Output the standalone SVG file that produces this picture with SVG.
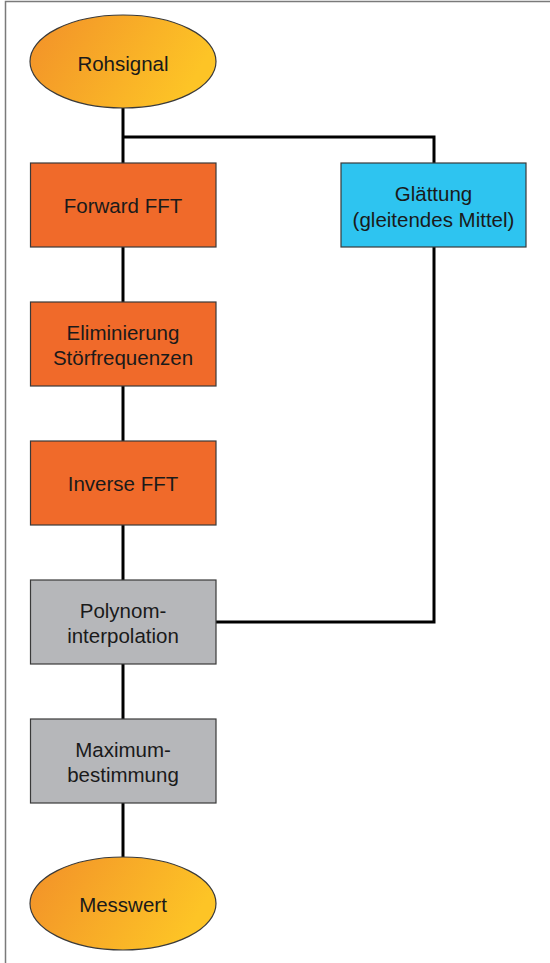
<svg xmlns="http://www.w3.org/2000/svg" width="550" height="963" viewBox="0 0 550 963">
<defs>
<linearGradient id="og" x1="0" y1="0" x2="1" y2="0.3">
<stop offset="0" stop-color="#F29029"/>
<stop offset="1" stop-color="#FDC426"/>
</linearGradient>
<style>
.t{font-family:"Liberation Sans",Arial,sans-serif;font-size:20.5px;fill:#1a1a1a;text-anchor:middle}
.o{fill:#F06A2A;stroke:#3a3a3a;stroke-width:1.2}
.g{fill:#B6B7BA;stroke:#3a3a3a;stroke-width:1.2}
.c{fill:#2EC4F0;stroke:#3a3a3a;stroke-width:1.2}
.e{fill:url(#og);stroke:#3a3a3a;stroke-width:1.2}
.l{fill:none;stroke:#000;stroke-width:3}
</style>
</defs>
<rect width="550" height="963" fill="#fff"/>
<path d="M5.5 963 V1.5 H550" fill="none" stroke="#7a7a7a" stroke-width="1.5"/>
<g id="connectors">
<path class="l" d="M123 108 V163"/>
<path class="l" d="M123 137 H434 V163"/>
<path class="l" d="M123 247 V302"/>
<path class="l" d="M123 386 V441"/>
<path class="l" d="M123 525 V580"/>
<path class="l" d="M434 247 V622 H216"/>
<path class="l" d="M123 664 V719"/>
<path class="l" d="M123 803 V857"/>
</g>
<g id="rohsignal">
<ellipse class="e" cx="123" cy="61.5" rx="93" ry="46.5"/>
<text class="t" x="123" y="70.5">Rohsignal</text>
</g>
<g id="forward-fft">
<rect class="o" x="30.5" y="163" width="185.5" height="84"/>
<text class="t" x="123" y="213">Forward FFT</text>
</g>
<g id="glaettung">
<rect class="c" x="341" y="163" width="185" height="84"/>
<text class="t" x="433.5" y="201">Glättung</text>
<text class="t" x="433.5" y="227">(gleitendes Mittel)</text>
</g>
<g id="eliminierung">
<rect class="o" x="30.5" y="302" width="185.5" height="84"/>
<text class="t" x="123" y="340">Eliminierung</text>
<text class="t" x="123" y="365">Störfrequenzen</text>
</g>
<g id="inverse-fft">
<rect class="o" x="30.5" y="441" width="185.5" height="84"/>
<text class="t" x="123" y="491">Inverse FFT</text>
</g>
<g id="polynom">
<rect class="g" x="30.5" y="580" width="185.5" height="84"/>
<text class="t" x="123" y="618">Polynom-</text>
<text class="t" x="123" y="643">interpolation</text>
</g>
<g id="maximum">
<rect class="g" x="30.5" y="719" width="185.5" height="84"/>
<text class="t" x="123" y="757">Maximum-</text>
<text class="t" x="123" y="782">bestimmung</text>
</g>
<g id="messwert">
<ellipse class="e" cx="123" cy="903.5" rx="93" ry="46.5"/>
<text class="t" x="123" y="912">Messwert</text>
</g>
</svg>
